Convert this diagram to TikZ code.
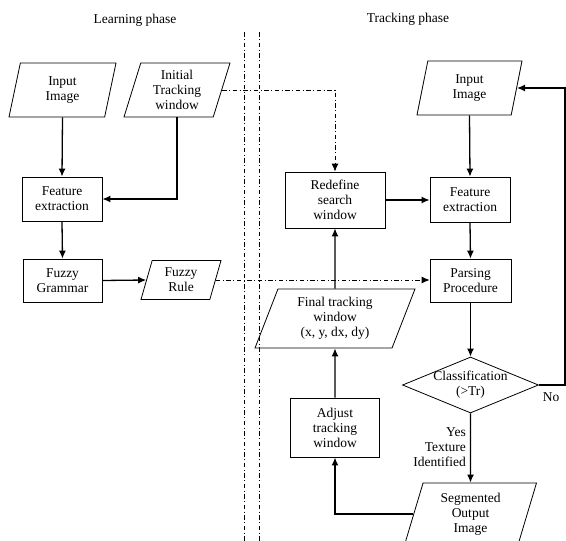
\documentclass[tikz,border=0pt]{standalone}
\usepackage{fontspec}
\setmainfont{Liberation Serif}
\usetikzlibrary{shapes.geometric,arrows.meta}
\tikzset{
  txt/.style={font=\fontsize{13.5}{15}\selectfont, align=center, inner sep=0pt},
  box/.style={txt, draw, line width=0.8pt, rectangle},
  para/.style={txt, draw, line width=0.8pt, trapezium, trapezium stretches body,
     trapezium left angle=#1, trapezium right angle=180-#1},
  decision/.style={draw, line width=0.8pt, diamond, inner sep=0pt},
  arr/.style={line width=1.3pt, -{Latex[length=8pt,width=7pt]}},
  dd/.style={line width=0.9pt, dash pattern=on 4.5pt off 2.5pt on 1pt off 2.5pt},
  ddarr/.style={dd, -{Latex[length=8pt,width=7pt]}},
}
\begin{document}
\begin{tikzpicture}[x=1pt,y=-1pt]
\useasboundingbox (0,0) rectangle (566,541);
% titles
\node[txt] (tl) at (135,20) {Learning phase};
\node[txt] (tt) at (408,19) {Tracking phase};
% separators
\coordinate (s1a) at (244,32); \coordinate (s1b) at (244,541);
\coordinate (s2a) at (259,32); \coordinate (s2b) at (259,541);
\draw[dd] (s1a) -- (s1b);
\draw[dd] (s2a) -- (s2b);
% learning phase
\node[para=67, minimum width=107pt, minimum height=54pt] (il) at (62.5,90) {Input\\Image};
\node[para=67, minimum width=106pt, minimum height=54pt] (it) at (177,90) {Initial\\Tracking\\window};
\node[box, minimum width=80pt, minimum height=44pt] (fl) at (62,199) {Feature\\extraction};
\node[box, minimum width=79pt, minimum height=43pt] (fg) at (62.5,280.5) {Fuzzy\\Grammar};
\node[para=65, minimum width=80pt, minimum height=39pt] (fr) at (181,280) {Fuzzy\\Rule};
% tracking phase
\node[para=68, minimum width=105pt, minimum height=54pt] (ir) at (469.5,88) {Input\\Image};
\node[box, minimum width=100pt, minimum height=56pt] (rs) at (335,200) {Redefine\\search\\window};
\node[box, minimum width=80pt, minimum height=45pt] (fx) at (470,199.5) {Feature\\extraction};
\node[box, minimum width=81pt, minimum height=43pt] (pp) at (470.5,280.5) {Parsing\\Procedure};
\node[para=61.5, minimum width=160pt, minimum height=59pt] (ft) at (335,318.5) {Final tracking\\window\\(x, y, dx, dy)};
\node[decision, minimum width=136pt, minimum height=56pt] (cl) at (470.5,385) {};
\node[txt] (clt) at (cl.center) {Classification\\(>Tr)};
\node[box, minimum width=89pt, minimum height=59pt] (aj) at (335,427.5) {Adjust\\tracking\\window};
\node[para=66.3, minimum width=132pt, minimum height=62pt] (so) at (470.5,514) {Segmented\\Output\\Image};
\node[txt, anchor=east, align=right] (yes) at (466,447) {Yes\\Texture\\Identified};
\node[txt] (no) at (551,397) {No};
\coordinate (fb) at (565,300);
% connectors learning
\draw[arr] (il.south) -- (fl.north);
\draw[arr] (it.south) |- (fl.east);
\draw[arr] (fl.south) -- (fg.north);
\draw[arr] (fg.east) -- (fr.west);
\draw[ddarr] (it.east) -| (rs.north);
\draw[ddarr] (fr.east) -- (fr.east -| pp.west);
% connectors tracking
\draw[arr] (ir.south) -- (fx.north);
\draw[arr] (rs.east) -- (rs.east -| fx.west);
\draw[arr] (fx.south) -- (pp.north);
\draw[arr] (pp.south) -- (cl.north);
\draw[arr] (cl.south) -- (so.north);
\draw[arr] (cl.east) -- (cl.east -| fb) -- (fb |- ir.east) -- (ir.east);
\draw[arr] (ft.north) -- (rs.south);
\draw[arr] (aj.north) -- (ft.south);
\draw[line width=1.8pt, -{Latex[length=8pt,width=7pt]}] (so.west) -| (aj.south);
\end{tikzpicture}
\end{document}
